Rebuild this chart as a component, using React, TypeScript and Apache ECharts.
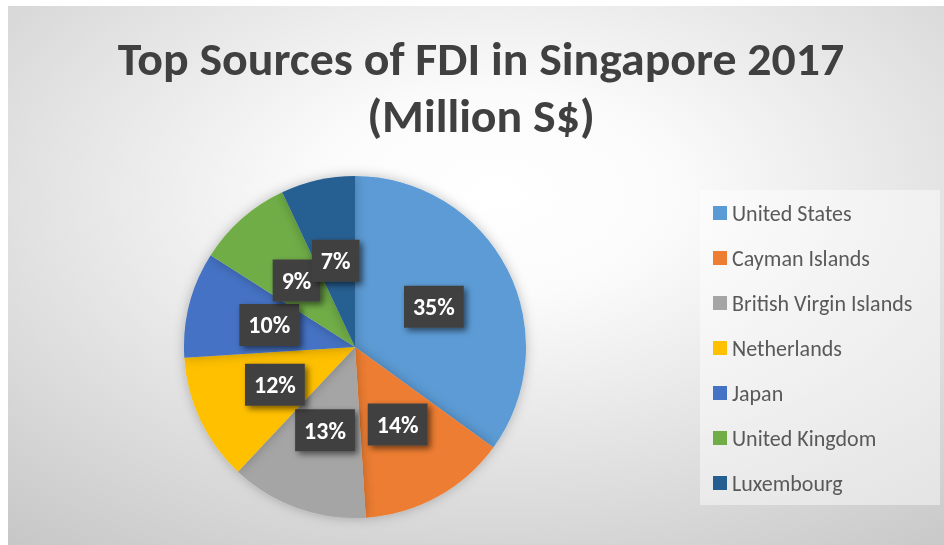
import React, { useEffect, useRef } from "react";
import * as echarts from "echarts";

const countries = [
  "United States",
  "Cayman Islands",
  "British Virgin Islands",
  "Netherlands",
  "Japan",
  "United Kingdom",
  "Luxembourg",
];
const shares = [35, 14, 13, 12, 10, 9, 7];
const colors = ["#5B9BD5", "#ED7D31", "#A5A5A5", "#FFC000", "#4472C4", "#70AD47", "#255E91"];
const titleLines = ["Top Sources of FDI in Singapore 2017", "(Million S$)"];

const FONT = "Carlito, Lato, 'Open Sans', sans-serif";

export default function App() {
  const ref = useRef<HTMLDivElement>(null);
  useEffect(() => {
    if (!ref.current) return;
    const chart = echarts.init(ref.current, undefined, { renderer: "svg" });
    chart.setOption({
      animation: false,
      backgroundColor: {
        type: "radial",
        x: 0.52,
        y: 0.35,
        r: 0.95,
        colorStops: [
          { offset: 0, color: "#ffffff" },
          { offset: 0.2, color: "#fbfbfb" },
          { offset: 1, color: "#bdbdbd" },
        ],
      },
      graphic: [
        {
          type: "rect",
          left: 692,
          top: 184,
          shape: { width: 240, height: 315 },
          style: { fill: "rgba(255,255,255,0.45)" },
          z: -1,
        },
        ...titleLines.map((t, i) => ({
          type: "text",
          x: 473,
          y: 53 + i * 57,
          scaleX: 1.04,
          style: {
            text: t,
            textAlign: "center",
            textVerticalAlign: "middle",
            fontFamily: FONT,
            fontSize: 46,
            fontWeight: "bold",
            fill: "#404040",
          },
        })),
      ],
      legend: {
        orient: "vertical",
        left: 705,
        top: 196,
        padding: 0,
        icon: "rect",
        itemWidth: 14,
        itemHeight: 14,
        itemGap: 23,
        data: countries,
        textStyle: {
          fontFamily: FONT,
          fontSize: 22,
          lineHeight: 22,
          color: "#595959",
        },
      },
      series: [
        {
          type: "pie",
          center: [347, 341],
          radius: 171,
          startAngle: 90,
          clockwise: true,
          avoidLabelOverlap: false,
          labelLayout: { hideOverlap: false },
          itemStyle: {
            shadowBlur: 12,
            shadowColor: "rgba(0,0,0,0.25)",
          },
          label: {
            show: true,
            position: "inside",
            formatter: (p: any) => Math.round(p.percent) + "%",
            color: "#ffffff",
            fontFamily: FONT,
            fontWeight: "bold",
            fontSize: 24,
            lineHeight: 26,
            backgroundColor: "#404040",
            padding: [8, 9],
            shadowBlur: 6,
            shadowColor: "rgba(0,0,0,0.55)",
            shadowOffsetX: 3,
            shadowOffsetY: 3,
          },
          labelLine: { show: false },
          data: countries.map((name, i) => ({
            name,
            value: shares[i],
            itemStyle: { color: colors[i] },
          })),
        },
      ],
    });
    return () => chart.dispose();
  }, []);
  return (
    <div
      ref={ref}
      style={{ position: "fixed", left: 8, top: 6, width: 936, height: 539 }}
    />
  );
}
